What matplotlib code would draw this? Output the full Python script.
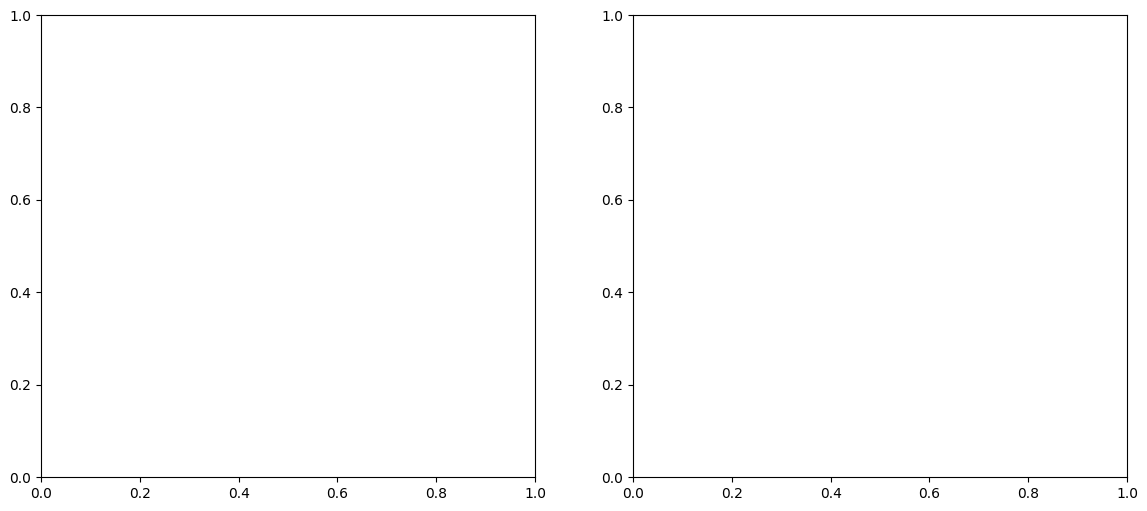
import matplotlib
matplotlib.use("Agg")
import matplotlib.pyplot as plt

# Data (both panels are empty axes with default 0-1 limits)
x_ticks = [0.0, 0.2, 0.4, 0.6, 0.8, 1.0]
y_ticks = [0.0, 0.2, 0.4, 0.6, 0.8, 1.0]

W, H = 1147, 511
fig = plt.figure(figsize=(W / 100, H / 100), dpi=100)

boxes = [(41, 15, 535, 477), (633, 15, 1127, 477)]
for (x0, y0, x1, y1) in boxes:
    ax = fig.add_axes([x0 / W, (H - y1) / H, (x1 - x0) / W, (y1 - y0) / H])
    ax.set_xlim(0, 1)
    ax.set_ylim(0, 1)
    ax.set_xticks(x_ticks)
    ax.set_yticks(y_ticks)

fig.savefig("out.png", dpi=100)
